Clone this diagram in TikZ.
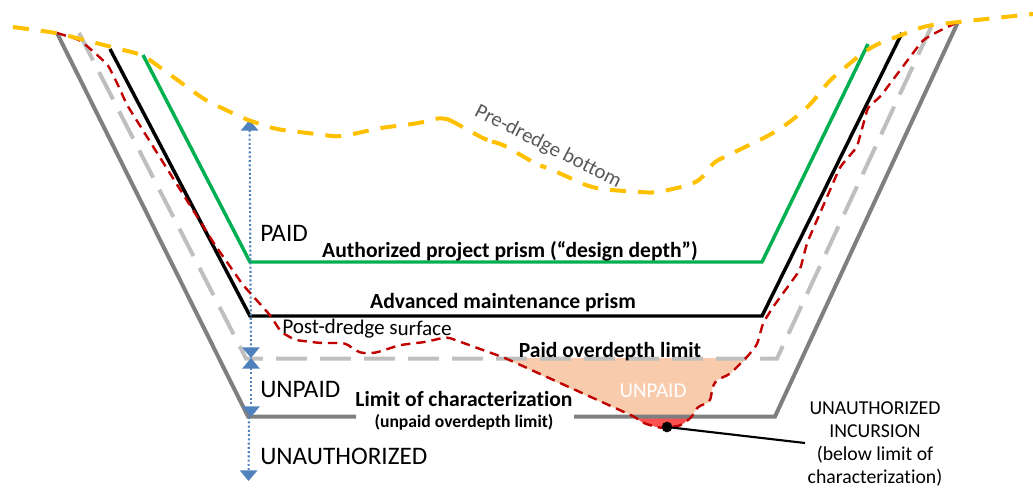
\documentclass[tikz,border=0pt]{standalone}
\usepackage{fontspec}
\setmainfont{Carlito}[Ligatures=NoCommon]
\usetikzlibrary{arrows.meta}
\definecolor{cgray}{HTML}{7F7F7F}
\definecolor{clight}{HTML}{BFBFBF}
\definecolor{cgreen}{HTML}{00B050}
\definecolor{cred}{HTML}{C00000}
\definecolor{cyellow}{HTML}{FFC000}
\definecolor{cblue}{HTML}{4F81BD}
\definecolor{corange}{HTML}{F8CBAD}
\definecolor{cfill}{HTML}{FF5050}
\definecolor{ctext}{HTML}{595959}
\tikzset{
  x=.75pt,y=-.75pt,
  limitline/.style={cgray,line width=3pt,line join=miter},
  paidline/.style={clight,line width=3pt,dash pattern=on 23pt off 10pt},
  prism/.style={line width=2.6pt,line join=miter},
  redline/.style={cred,line width=1.8pt,dash pattern=on 7pt off 4.5pt},
  yellowline/.style={cyellow,line width=3pt,dash pattern=on 12pt off 9pt},
  bluearrow/.style={cblue,line width=1.6pt,dash pattern=on 1.5pt off 1.7pt,
     tips=true,{Triangle[width=13pt,length=8pt,sep=0pt]}-{Triangle[width=13pt,length=8pt,sep=0pt]}},
  bluearrowend/.style={cblue,line width=1.6pt,dash pattern=on 1.5pt off 1.7pt,
     -{Triangle[width=13pt,length=8pt,sep=0pt]}},
  zone/.style={anchor=west,inner sep=0pt,font=\fontsize{18.9}{22}\selectfont,text=black},
  boldlabel/.style={inner sep=0pt,font=\fontsize{16.2}{19}\bfseries\selectfont,text=black},
  smalllabel/.style={inner sep=0pt,font=\fontsize{14.8}{17.2}\selectfont,text=black,align=center},
}
\begin{document}
\begin{tikzpicture}
\useasboundingbox (0,0) rectangle (1033,489);
% fills
\fill[corange] (505,358) -- (747,358) -- (730,374) -- (717,380) -- (713,385) -- (710,402) -- (697,407) -- (692,417) -- (635,417) -- (560,384) -- cycle;
\fill[cfill] (635,417) -- (692,417) -- (680,426) -- (660,428) -- (643,423) -- cycle;
% limits
\draw[limitline] (57,33) -- (248,416.5) -- (356,416.5);
\draw[limitline] (574,416.5) -- (775,416.5) -- (958,22);
\draw[paidline] (79,33) -- (246,358.5) -- (777,358.5) -- (933,23);
\draw[prism,cgreen] (143,55) -- (250,262) -- (762,262) -- (868,44);
\draw[prism,black] (110,49) -- (250,316) -- (762,316) -- (902,33);
% arrows
\coordinate (topA) at (249.5,120);
\coordinate (midA) at (251,358);
\coordinate (lowA) at (251,417);
\coordinate (lowB) at (249,417);
\coordinate (botA) at (248.5,481);
\draw[bluearrow] (topA) -- (midA);
\draw[bluearrow] (midA) -- (lowA);
\draw[bluearrowend] (lowB) -- (botA);
% post-dredge surface
\draw[redline,rounded corners=3pt] (57,33) -- (80,40) -- (95,53) -- (108,65) -- (118,85) -- (127,105) -- (215,245) -- (243,285) -- (270,315) -- (281,332) -- (295,340) -- (320,343) -- (345,343) -- (360,353) -- (375,353) -- (400,345) -- (425,342) -- (447,337) -- (505,358) -- (635,417) -- (643,423) -- (660,428) -- (680,426) -- (692,417) -- (697,407) -- (710,402) -- (713,385) -- (717,380) -- (730,374) -- (747,357) -- (757,345) -- (763,323) -- (773,307) -- (800,270) -- (807,243) -- (827,197) -- (840,167) -- (857,147) -- (868,107) -- (880,97) -- (910,57) -- (923,40) -- (937,32) -- (958,22);
% pre-dredge bottom
\draw[yellowline,rounded corners=6pt] (13,27) -- (57,33) -- (143,55) -- (205,100) -- (245,119) -- (275,129) -- (340,137) -- (380,128) -- (420,123) -- (442,117) -- (450,120) -- (488,141) -- (500,143) -- (538,165) -- (548,168) -- (590,187) -- (610,190) -- (655,193) -- (690,185) -- (703,178) -- (712,163) -- (770,135) -- (790,122) -- (810,105) -- (830,80) -- (860,55) -- (875,45) -- (925,26) -- (958,22) -- (1033,14);
% leader
\node[circle,fill=black,inner sep=0pt,minimum size=8pt] (dot) at (667,427) {};
\coordinate (leaderEnd) at (805,443);
\draw[black,line width=1.6pt] (dot.center) -- (leaderEnd);
% labels
\node[zone] (paid) at (260,233) {PAID};
\node[zone] (unpaid) at (260,390) {UNPAID};
\node[zone] (unauth) at (260,456) {UNAUTHORIZED};
\node[boldlabel] (auth) at (510,251) {Authorized project prism (“design depth”)};
\node[boldlabel] (adv) at (503,303) {Advanced maintenance prism};
\node[boldlabel] (over) at (610,352) {Paid overdepth limit};
\node[boldlabel] (char) at (464,399) {Limit of characterization};
\node[inner sep=0pt,font=\fontsize{13.2}{16}\bfseries\selectfont] (charsub) at (464,422) {(unpaid overdepth limit)};
\node[inner sep=0pt,font=\fontsize{15.8}{19}\selectfont,rotate=-1] (post) at (367,329) {Post-dredge surface};
\node[inner sep=0pt,font=\fontsize{15.6}{19}\selectfont,text=ctext,rotate=-27] (pre) at (548,147) {Pre-dredge bottom};
\node[inner sep=0pt,font=\fontsize{15.8}{19}\selectfont,text=white] (unpaidwhite) at (653,391) {UNPAID};
\node[smalllabel] (incursion) at (875,444) {UNAUTHORIZED\\INCURSION\\(below limit of\\characterization)};
\end{tikzpicture}
\end{document}
